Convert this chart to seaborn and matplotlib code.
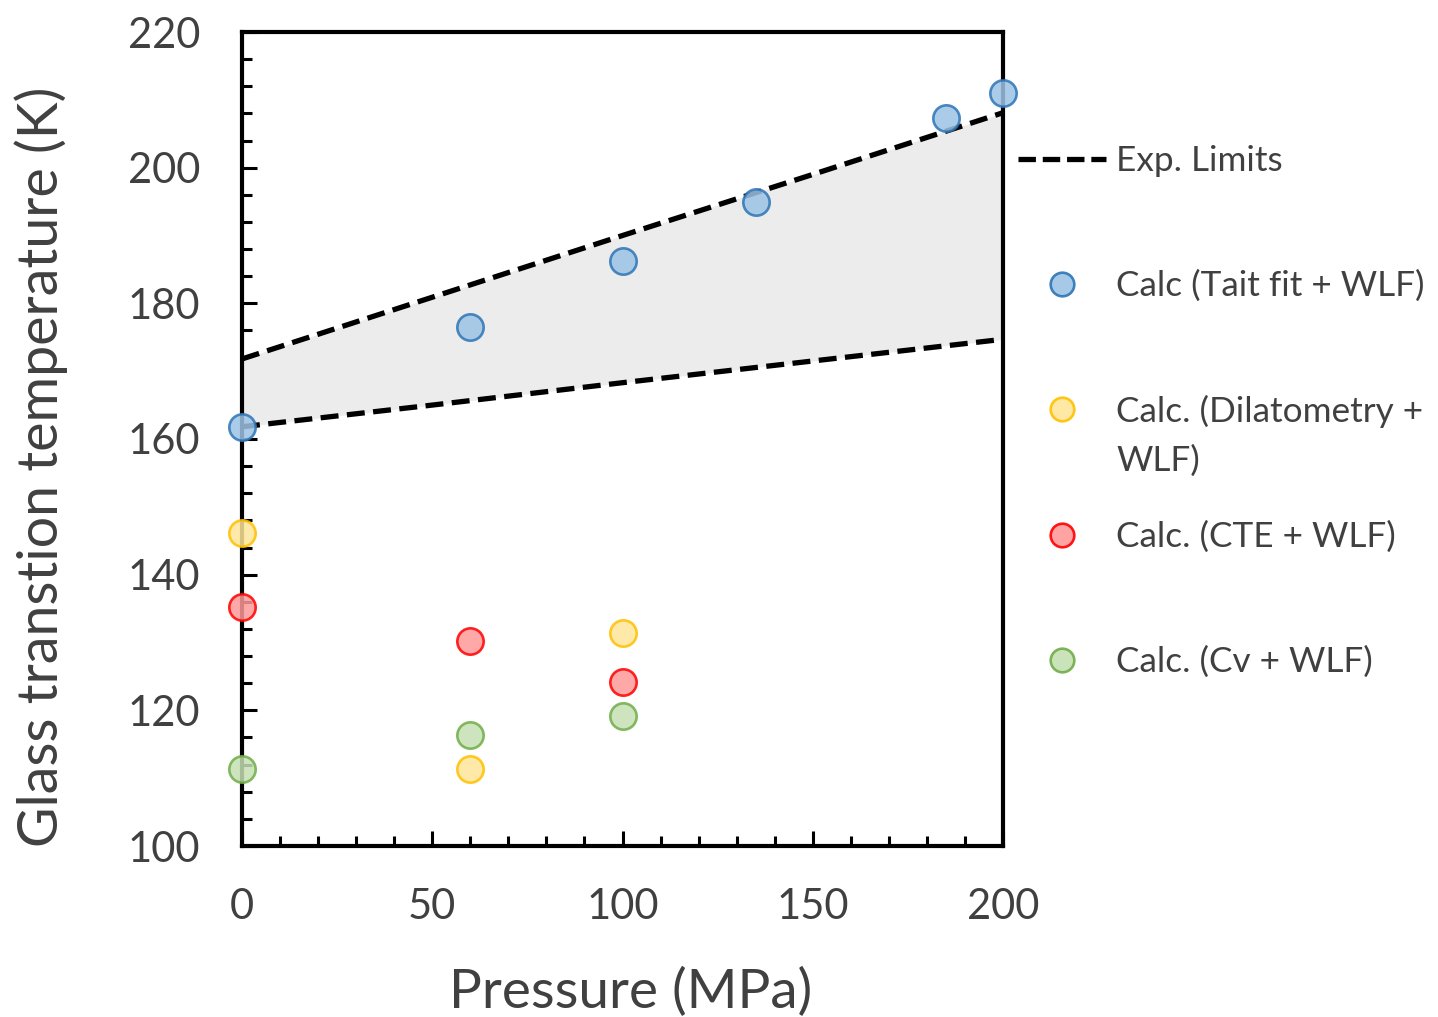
import matplotlib
matplotlib.use("Agg")
import matplotlib.pyplot as plt
import seaborn as sns
import numpy as np
import pandas as pd
from matplotlib.lines import Line2D
from matplotlib.ticker import MultipleLocator

# ---- data ----
tait_p = [0, 60, 100, 135, 185, 200]
tait_tg = [161.8, 176.5, 186.2, 194.9, 207.3, 211.0]
dil_p = [0, 60, 100]
dil_tg = [146.1, 111.4, 131.4]
cte_p = [0, 60, 100]
cte_tg = [135.2, 130.2, 124.2]
cv_p = [0, 60, 100]
cv_tg = [111.4, 116.4, 119.2]
lim_p = [0, 50, 100, 150, 200]
lim_upper = [171.8, 180.9, 190.0, 199.0, 208.1]
lim_lower = [161.8, 165.0, 168.3, 171.5, 174.7]

series_names = ["Calc (Tait fit + WLF)", "Calc. (Dilatometry +", "Calc. (CTE + WLF)", "Calc. (Cv + WLF)"]
series_p = [tait_p, dil_p, cte_p, cv_p]
series_tg = [tait_tg, dil_tg, cte_tg, cv_tg]
edge_colors = ["#2E75B6", "#FFC000", "#FF0000", "#70AD47"]
face_colors = ["#9DC3E6", "#FFE699", "#FF9999", "#C5E0B4"]

sns.set_style("ticks")
plt.rcParams['font.family'] = ['Lato', 'DejaVu Sans']
TXT = "#404040"

fig = plt.figure(figsize=(14.38, 10.17), dpi=100)
ax = fig.add_axes([242/1438, 1-846/1017, (1003-242)/1438, (846-32)/1017])

lim_df = pd.DataFrame({"p": lim_p, "up": lim_upper, "lo": lim_lower})
ax.fill_between(lim_df["p"], lim_df["lo"], lim_df["up"], color="#ECECEC", lw=0, zorder=1)
dash = (0, (3.4, 1.6))
sns.lineplot(data=lim_df, x="p", y="up", ax=ax, color="black", lw=3.8, linestyle=dash, zorder=2)
sns.lineplot(data=lim_df, x="p", y="lo", ax=ax, color="black", lw=3.8, linestyle=dash, zorder=2)

for name, px, ty, ec, fc in zip(series_names, series_p, series_tg, edge_colors, face_colors):
    df = pd.DataFrame({"p": px, "tg": ty})
    sns.scatterplot(data=df, x="p", y="tg", ax=ax, s=360, color=fc, edgecolor=ec,
                    linewidth=1.9, alpha=0.85, zorder=5, clip_on=False)

ax.set_xlim(0, 200)
ax.set_ylim(100, 220)
ax.xaxis.set_major_locator(MultipleLocator(50))
ax.xaxis.set_minor_locator(MultipleLocator(10))
ax.yaxis.set_major_locator(MultipleLocator(20))
ax.yaxis.set_minor_locator(MultipleLocator(4))
for s in ax.spines.values():
    s.set_linewidth(3)
    s.set_color("black")
    s.set_visible(True)
    s.set_zorder(3)
ax.tick_params(which="major", direction="in", length=11, width=2.2, color="black",
               labelsize=30, labelcolor=TXT, pad=30)
ax.tick_params(which="minor", direction="in", length=7.5, width=2.2, color="black")
ax.set_xlabel("Pressure (MPa)", fontsize=39.5, color=TXT, labelpad=30)
ax.xaxis.label.set_x(0.5 + 8/761)
ax.set_ylabel("Glass transtion temperature (K)", fontsize=40, color=TXT)
ax.yaxis.set_label_coords(-0.2287, 0.4662)

# ---- legend entries (one per row to reproduce layout) ----
W, H = 1438, 1017
lx = 1018 / W
common = dict(loc="center left", bbox_transform=fig.transFigure, frameon=False,
              borderpad=0, borderaxespad=0, handlelength=2.5, handletextpad=0.29,
              fontsize=25.3, labelcolor=TXT)
mk = dict(ls="none", marker="o", ms=17, mew=1.9, alpha=0.9)
rows = [
    (Line2D([], [], color="black", lw=3.8, linestyle=(0, (3.3, 1.3))), "Exp. Limits", 161),
    (Line2D([], [], mfc=face_colors[0], mec=edge_colors[0], **mk), "Calc (Tait fit + WLF)", 286),
    (Line2D([], [], mfc=face_colors[1], mec=edge_colors[1], **mk), "Calc. (Dilatometry +", 411),
    (Line2D([], [], ls="none"), "WLF)", 461),
    (Line2D([], [], mfc=face_colors[2], mec=edge_colors[2], **mk), "Calc. (CTE + WLF)", 537),
    (Line2D([], [], mfc=face_colors[3], mec=edge_colors[3], **mk), "Calc. (Cv + WLF)", 662),
]
for h, lab, y in rows:
    fig.legend(handles=[h], labels=[lab], bbox_to_anchor=(lx, 1 - y / H), **common)

fig.savefig("out.png", dpi=100)
